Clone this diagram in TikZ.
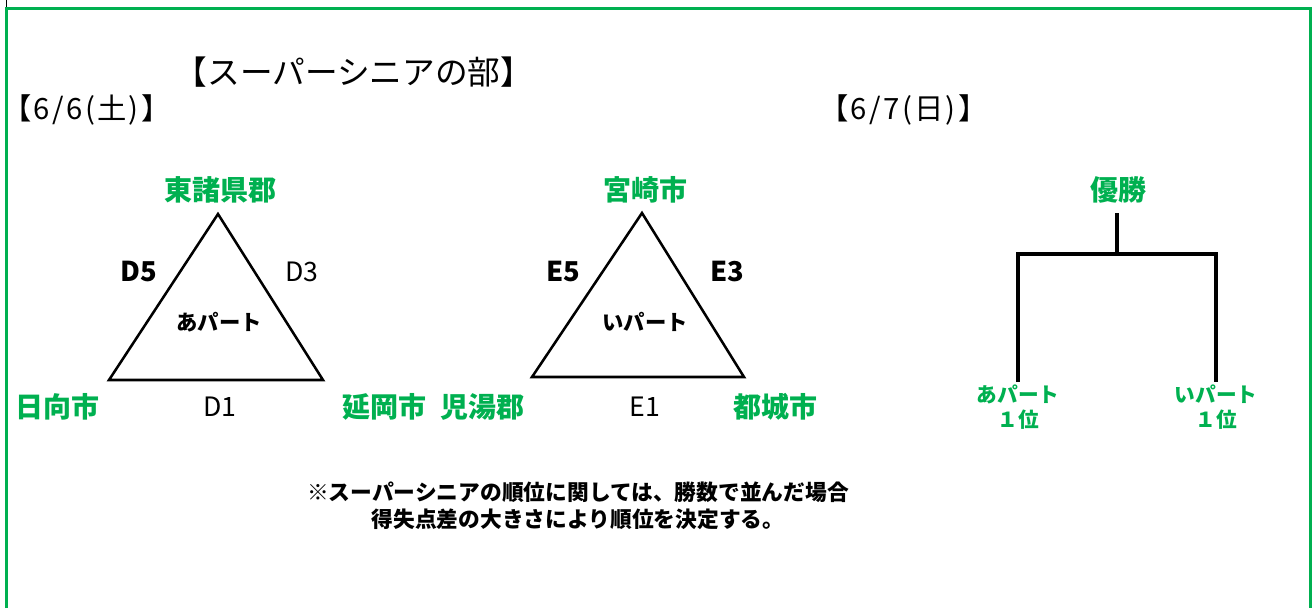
\documentclass[tikz,border=0pt]{standalone}
\usepackage{fontspec}
\setmainfont{Noto Sans CJK JP}
\usetikzlibrary{positioning}
\definecolor{grn}{RGB}{0,176,80}
\tikzset{
  every picture/.style={line join=miter},
  every node/.style={inner sep=0pt},
  % Rahmen
  frame/.style={grn, line width=2.2pt},
  % Linien
  tri/.style={line width=1.9pt},
  brk/.style={line width=2.3pt},
  % Beschriftungen
  title/.style={font=\fontsize{24.5}{28}\selectfont},
  day/.style={anchor=west, font=\fontsize{22}{25}\selectfont\addfontfeature{LetterSpace=8}},
  place/.style={grn, font=\fontsize{21}{24}\selectfont\bfseries},
  game/.style={font=\fontsize{20}{23}\selectfont},
  gamebf/.style={font=\fontsize{20.5}{23}\selectfont\bfseries},
  part/.style={font=\fontsize{16}{19}\selectfont\bfseries},
  seed/.style={grn, align=center, font=\fontsize{15.5}{19}\selectfont\bfseries},
  note/.style={align=center, font=\fontsize{16.3}{20.5}\selectfont\bfseries},
}
\begin{document}
\begin{tikzpicture}[x=0.75pt, y=-0.75pt]
  \useasboundingbox (0,0) rectangle (1313,608);
  % Rahmen
  \draw[line width=0.75pt] (6,0) -- (6,8);
  \draw[frame] (6.5,608) -- (6.5,8.5) -- (1310.5,8.5) -- (1310.5,608);
  % Kopfzeilen
  \node[title] (head) at (354,72) {【スーパーシニアの部】};
  \node[day] (sat) at (2,110) {【6/6(土)】};
  \node[day] (sun) at (819,110) {【6/7(日)】};
  % あパート
  \coordinate (a1) at (218,214);
  \coordinate (a2) at (109,380);
  \coordinate (a3) at (323,380);
  \draw[tri] (a1) -- (a2) -- (a3) -- cycle;
  \node[place] (higashi) at (220,190) {東諸県郡};
  \node[place] (hyuga) at (58,407) {日向市};
  \node[place] (nobeoka) at (384,407) {延岡市};
  \node[gamebf] (d5) at (139,272) {D5};
  \node[game] (d3) at (302,272) {D3};
  \node[game] (d1) at (220,407) {D1};
  \node[part] (pa) at (219,322) {あパート};
  % いパート
  \coordinate (b1) at (642,213);
  \coordinate (b2) at (532,377);
  \coordinate (b3) at (744,377);
  \draw[tri] (b1) -- (b2) -- (b3) -- cycle;
  \node[place] (miyazaki) at (645,190) {宮崎市};
  \node[place] (koyu) at (482,407) {児湯郡};
  \node[place] (miyakonojo) at (775,407) {都城市};
  \node[gamebf] (e5) at (563,272) {E5};
  \node[gamebf] (e3) at (727,272) {E3};
  \node[game] (e1) at (645,407) {E1};
  \node[part] (pb) at (645,322) {いパート};
  % Finale
  \node[place] (win) at (1118,190) {優勝};
  \node[seed] (sa) at (1018,407) {あパート\\１位};
  \node[seed] (sb) at (1216,407) {いパート\\１位};
  \coordinate (top) at (1117,213);
  \coordinate (mid) at (1117,254);
  \draw[brk] (top) -- (mid);
  \draw[brk] (sa.north |- 0,382) |- (mid) -| (sb.north |- 0,382);
  % Hinweis
  \node[note] (rule) at (578,506) {※スーパーシニアの順位に関しては、勝数で並んだ場合\\得失点差の大きさにより順位を決定する。};
\end{tikzpicture}
\end{document}
